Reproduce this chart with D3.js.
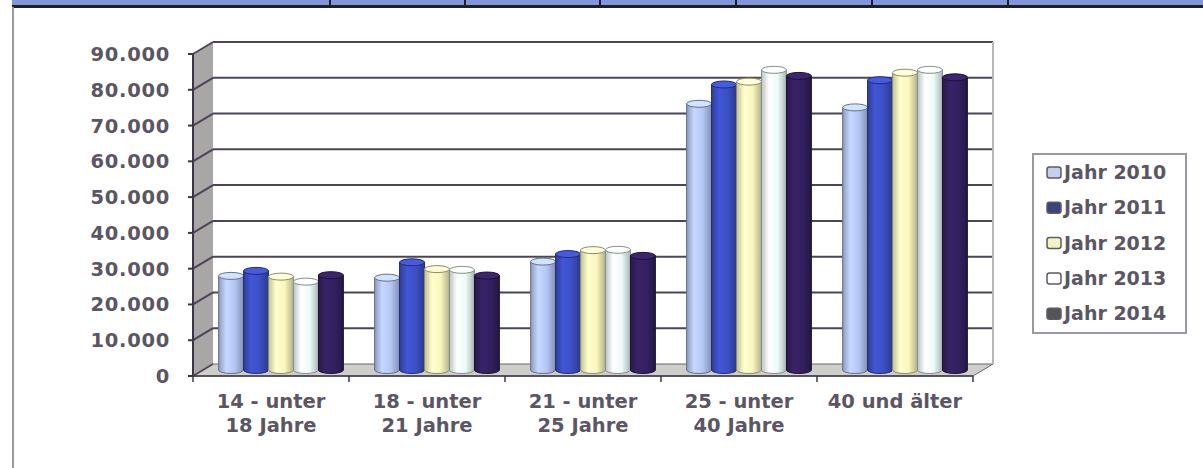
<!DOCTYPE html>
<html>
<head>
<meta charset="utf-8">
<script src="https://cdn.jsdelivr.net/npm/d3@7"></script>
<style>
  body { margin: 0; background: #fff; }
  svg text { font-family: "DejaVu Sans", sans-serif; font-weight: bold; fill: #5c5664; }
</style>
</head>
<body>
<svg id="chart" width="1203" height="468"></svg>
<script>
// Altersgruppen
var categories = [["14 - unter", "18 Jahre"], ["18 - unter", "21 Jahre"], ["21 - unter", "25 Jahre"], ["25 - unter", "40 Jahre"], ["40 und älter"]];
var years = ["Jahr 2010", "Jahr 2011", "Jahr 2012", "Jahr 2013", "Jahr 2014"];
var jahr2010 = [26300, 25800, 30300, 74400, 73400];
var jahr2011 = [27700, 30100, 32400, 79800, 81000];
var jahr2012 = [26100, 28200, 33500, 80600, 83100];
var jahr2013 = [24700, 28000, 33600, 83900, 83900];
var jahr2014 = [26500, 26400, 31900, 82200, 81800];
var yTicks = [0, 10000, 20000, 30000, 40000, 50000, 60000, 70000, 80000, 90000];
var series = [jahr2010, jahr2011, jahr2012, jahr2013, jahr2014];

var barColors = ["#b4c6f4", "#3c4fc4", "#f9f6bd", "#ecfbf8", "#33205f"];
var swatchColors = ["#c3d0f0", "#3b4280", "#f3f3c4", "#ffffff", "#555458"];

var svg = d3.select("#chart");

// table strip at the top + frame line
svg.append("rect").attr("x", 12).attr("y", 0).attr("width", 1191).attr("height", 6).attr("fill", "#8296d8");
svg.append("line").attr("x1", 12).attr("x2", 1203).attr("y1", 6.5).attr("y2", 6.5)
    .attr("stroke", "#1e1e2c").attr("stroke-width", 3);
[330, 465, 600, 736, 872, 1008].forEach(function (x) {
    svg.append("line").attr("x1", x).attr("x2", x).attr("y1", 0).attr("y2", 7)
        .attr("stroke", "#1e1e2c").attr("stroke-width", 2);
});
svg.append("line").attr("x1", 13).attr("x2", 13).attr("y1", 7).attr("y2", 468)
    .attr("stroke", "#9c9aa0").attr("stroke-width", 2);

// 3d geometry
var left = 193, right = 973, dx = 20, dy = -12;
var y = d3.scaleLinear().domain([0, 90000]).range([376, 54]);
var x = d3.scaleBand().domain(d3.range(categories.length)).range([left, right]).paddingInner(0.2).paddingOuter(0.1);
var xs = d3.scaleBand().domain(d3.range(years.length)).range([0, x.bandwidth()]);

var g = svg.append("g");

// side wall
g.append("path")
    .attr("d", "M" + left + "," + y(90000) + "L" + (left + dx) + "," + (y(90000) + dy) +
        "L" + (left + dx) + "," + (y(0) + dy) + "L" + left + "," + y(0) + "Z")
    .attr("fill", "#a9a6a8");
// floor
g.append("path")
    .attr("d", "M" + left + "," + y(0) + "L" + (left + dx) + "," + (y(0) + dy) +
        "L" + (right + dx) + "," + (y(0) + dy) + "L" + right + "," + y(0) + "Z")
    .attr("fill", "#cfcfca").attr("stroke", "#6a6470").attr("stroke-width", 1);

// grid lines: back wall + side wall
yTicks.forEach(function (t) {
    if (t === 0) return;
    g.append("line").attr("x1", left + dx).attr("x2", right + dx)
        .attr("y1", y(t) + dy).attr("y2", y(t) + dy)
        .attr("stroke", "#4d4456").attr("stroke-width", 2);
    g.append("line").attr("x1", left).attr("x2", left + dx)
        .attr("y1", y(t)).attr("y2", y(t) + dy)
        .attr("stroke", "#4d4456").attr("stroke-width", 2);
});
g.append("line").attr("x1", left).attr("x2", left + dx).attr("y1", y(0)).attr("y2", y(0) + dy)
    .attr("stroke", "#4d4456").attr("stroke-width", 1.5);
// right wall edge
g.append("line").attr("x1", right + dx).attr("x2", right + dx)
    .attr("y1", y(90000) + dy).attr("y2", y(0) + dy)
    .attr("stroke", "#b8b6ba").attr("stroke-width", 2);

// y axis
g.append("line").attr("x1", left).attr("x2", left).attr("y1", y(90000)).attr("y2", y(0))
    .attr("stroke", "#3c3644").attr("stroke-width", 2);
g.selectAll(".ytick").data(yTicks).enter().append("line")
    .attr("x1", left - 5).attr("x2", left).attr("y1", function (d) { return y(d); }).attr("y2", function (d) { return y(d); })
    .attr("stroke", "#3c3644").attr("stroke-width", 2);
g.selectAll(".ylab").data(yTicks).enter().append("text")
    .attr("x", 170).attr("y", function (d) { return y(d) + 7; })
    .attr("text-anchor", "end").style("font-size", "19.5px").style("letter-spacing", "0.7px")
    .text(function (d) { return d === 0 ? "0" : d3.format(",")(d).replace(",", "."); });

// x axis
g.append("line").attr("x1", left).attr("x2", right).attr("y1", y(0)).attr("y2", y(0))
    .attr("stroke", "#3c3644").attr("stroke-width", 1.5);
d3.range(categories.length + 1).forEach(function (i) {
    var tx = left + i * x.step();
    g.append("line").attr("x1", tx).attr("x2", tx).attr("y1", y(0)).attr("y2", y(0) + 6)
        .attr("stroke", "#3c3644").attr("stroke-width", 1.5);
});
categories.forEach(function (lines, i) {
    var t = g.append("text").attr("text-anchor", "middle").style("font-size", "19.5px");
    lines.forEach(function (l, k) {
        t.append("tspan").attr("x", left + (i + 0.5) * x.step()).attr("y", 408 + k * 24).text(l);
    });
});

// gradients for cylinders
var defs = svg.append("defs");
barColors.forEach(function (c, i) {
    var grad = defs.append("linearGradient").attr("id", "cyl" + i).attr("x1", 0).attr("x2", 1).attr("y1", 0).attr("y2", 0);
    var base = d3.color(c);
    grad.append("stop").attr("offset", "0%").attr("stop-color", base.darker(0.7));
    grad.append("stop").attr("offset", "30%").attr("stop-color", base.brighter(0.25));
    grad.append("stop").attr("offset", "65%").attr("stop-color", base);
    grad.append("stop").attr("offset", "100%").attr("stop-color", base.darker(0.9));
});

// cylinders
var ry = 3.5;
var bars = g.append("g").attr("transform", "translate(" + dx / 2 + "," + dy / 2 + ")");
categories.forEach(function (cat, ci) {
    series.forEach(function (vals, si) {
        var w = xs.bandwidth();
        var x0 = x(ci) + xs(si), x1 = x0 + w;
        var top = y(vals[ci]), bot = y(0);
        var rx = w / 2;
        var edge = d3.color(barColors[si]).darker(1.6);
        bars.append("path")
            .attr("d", "M" + x0 + "," + top + "L" + x0 + "," + bot +
                "A" + rx + "," + ry + " 0 0 0 " + x1 + "," + bot + "L" + x1 + "," + top + "Z")
            .attr("fill", "url(#cyl" + si + ")").attr("stroke", edge).attr("stroke-width", 1);
        bars.append("ellipse").attr("cx", x0 + rx).attr("cy", top).attr("rx", rx).attr("ry", ry)
            .attr("fill", d3.color(barColors[si]).brighter(0.4)).attr("stroke", edge).attr("stroke-width", 1);
    });
});

// legend
var lg = svg.append("g");
lg.append("rect").attr("x", 1033).attr("y", 154).attr("width", 153).attr("height", 179)
    .attr("fill", "#fff").attr("stroke", "#9a98a0").attr("stroke-width", 2);
years.forEach(function (yr, i) {
    var cy = 172 + i * 35.3;
    lg.append("rect").attr("x", 1047).attr("y", cy - 5).attr("width", 14).attr("height", 11).attr("rx", 2.5)
        .attr("fill", swatchColors[i]).attr("stroke", "#5d5a62").attr("stroke-width", 1.5);
    lg.append("text").attr("x", 1064).attr("y", cy + 7).style("font-size", "19px").text(yr);
});
</script>
</body>
</html>
